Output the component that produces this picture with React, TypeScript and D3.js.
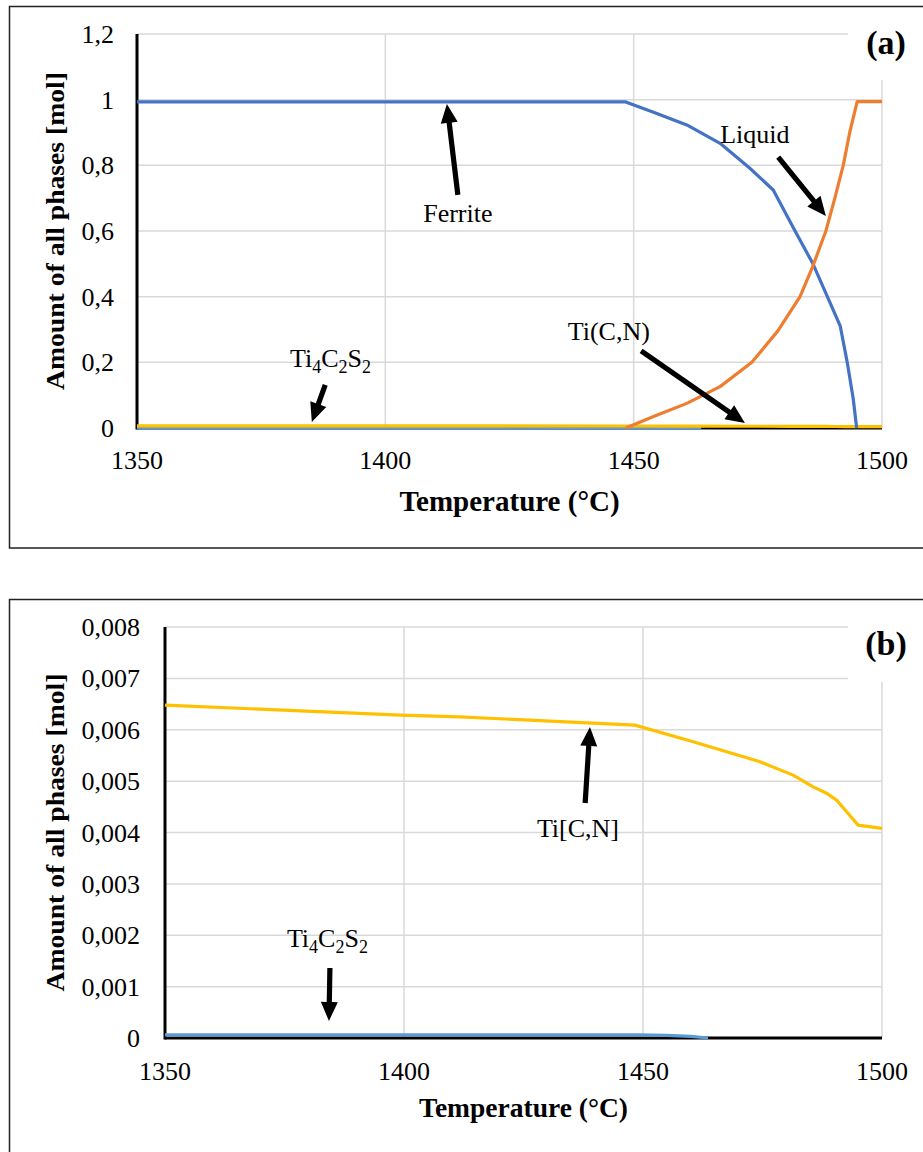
import React from "react";
import * as d3 from "d3";

// ---------- DATA ----------
const ferriteT = [1350, 1448.4, 1454, 1460.7, 1467.4, 1473.4, 1478.1, 1482.5, 1486.1, 1489, 1491.6, 1493, 1494.2, 1494.9];
const ferriteV = [0.993, 0.993, 0.962, 0.923, 0.867, 0.791, 0.725, 0.6, 0.5, 0.4, 0.31, 0.2, 0.09, 0.0];

const liquidT = [1448.4, 1454, 1460.7, 1467.4, 1473.8, 1479, 1483.5, 1486, 1488.7, 1490.5, 1492.2, 1493.5, 1495.0, 1500];
const liquidV = [0.0, 0.035, 0.075, 0.126, 0.2, 0.295, 0.4, 0.49, 0.6, 0.7, 0.8, 0.9, 0.994, 0.994];

const ticnT = [1350, 1399.2, 1411.7, 1448.3, 1460.5, 1474.5, 1481.4, 1485.6, 1488.3, 1490.5, 1492.6, 1495.0, 1500];
const ticnV = [0.00648, 0.006284, 0.00625, 0.00609, 0.005765, 0.005376, 0.005117, 0.004889, 0.00477, 0.00463, 0.004403, 0.004144, 0.00408];

const ti4T = [1350, 1449, 1455, 1460, 1463.6];
const ti4V = [0.00006, 0.00006, 0.00005, 0.00003, 0.0];

const xTicks = [1350, 1400, 1450, 1500];
const yTicksA = [0, 0.2, 0.4, 0.6, 0.8, 1, 1.2];
const yTicksB = [0, 0.001, 0.002, 0.003, 0.004, 0.005, 0.006, 0.007, 0.008];

const COLORS = { ferrite: "#4472C4", liquid: "#ED7D31", ticn: "#FFC000", ti4: "#5B9BD5" };

type Series = { t: number[]; v: number[]; color: string };
type Ann = { text: React.ReactNode; tx: number; ty: number; anchor: string; fromT: number; fromV: number; toT: number; toV: number };

const locale = d3.formatLocale({ decimal: ",", thousands: ".", grouping: [3], currency: ["", ""] });

const FONT = "'Liberation Serif', 'Times New Roman', serif";

function Ti4C2S2() {
  return (
    <>
      Ti<tspan dy={6} fontSize={18}>4</tspan>
      <tspan dy={-6}>C</tspan>
      <tspan dy={6} fontSize={18}>2</tspan>
      <tspan dy={-6}>S</tspan>
      <tspan dy={6} fontSize={18}>2</tspan>
    </>
  );
}

function arrowPath(x1: number, y1: number, x2: number, y2: number) {
  const dx = x2 - x1, dy = y2 - y1;
  const len = Math.hypot(dx, dy);
  const ux = dx / len, uy = dy / len;
  const px = -uy, py = ux;
  const L = Math.min(19, len * 0.5), hw = 8.5, sw = 2.6;
  const bx = x2 - ux * L, by = y2 - uy * L;
  const pts = [
    [x1 + px * sw, y1 + py * sw],
    [bx + px * sw, by + py * sw],
    [bx + px * hw, by + py * hw],
    [x2, y2],
    [bx - px * hw, by - py * hw],
    [bx - px * sw, by - py * sw],
    [x1 - px * sw, y1 - py * sw],
  ];
  return "M" + pts.map((p) => p[0].toFixed(2) + "," + p[1].toFixed(2)).join("L") + "Z";
}

type PanelProps = {
  frameY: number; frameH: number;
  left: number; right: number; top: number; bottom: number;
  yMax: number; yTicks: number[]; fmt: string;
  label: string; labelY: number; maskY0: number; maskY1: number;
  series: Series[]; anns: Ann[];
  xTitleY: number; xTitleSize: number; xTickY: number; yTickX: number;
};

function Panel(p: PanelProps) {
  const x = d3.scaleLinear().domain([1350, 1500]).range([p.left, p.right]);
  const y = d3.scaleLinear().domain([0, p.yMax]).range([p.bottom, p.top]);
  const f = locale.format(p.fmt);
  const line = d3.line<[number, number]>().x((d) => x(d[0])).y((d) => y(d[1])).curve(d3.curveLinear);
  const clipId = "clip" + p.label.replace(/\W/g, "");
  return (
    <g>
      <rect x={9.5} y={p.frameY} width={940} height={p.frameH} fill="#fff" stroke="#222" strokeWidth={1.5} />
      <defs>
        <clipPath id={clipId}>
          <rect x={p.left - 5} y={p.top - 5} width={p.right - p.left + 10} height={p.bottom - p.top + 10} />
        </clipPath>
      </defs>
      {p.yTicks.map((t) => (
        <line key={"gy" + t} x1={p.left} x2={p.right} y1={y(t)} y2={y(t)} stroke="#d9d9d9" strokeWidth={1.5} />
      ))}
      {xTicks.map((t) => (
        <line key={"gx" + t} x1={x(t)} x2={x(t)} y1={p.top} y2={p.bottom} stroke="#d9d9d9" strokeWidth={1.5} />
      ))}
      <rect x={848} y={p.maskY0} width={70} height={p.maskY1 - p.maskY0} fill="#fff" />
      <text x={886} y={p.labelY} textAnchor="middle" fontFamily={FONT} fontWeight="bold" fontSize={34}>{p.label}</text>
      <line x1={p.left} x2={p.right} y1={p.bottom} y2={p.bottom} stroke="#000" strokeWidth={3} />
      <line x1={p.left} x2={p.left} y1={p.top} y2={p.bottom + 1.5} stroke="#000" strokeWidth={3} />
      <g clipPath={`url(#${clipId})`}>
        {p.series.map((s, i) => (
          <path key={i} d={line(s.t.map((t, j) => [t, s.v[j]] as [number, number])) || ""} fill="none" stroke={s.color} strokeWidth={3.2} strokeLinejoin="round" />
        ))}
      </g>
      {xTicks.map((t) => (
        <text key={"tx" + t} x={x(t)} y={p.xTickY} textAnchor="middle" fontFamily={FONT} fontSize={26}>{t}</text>
      ))}
      {p.yTicks.map((t) => (
        <text key={"ty" + t} x={p.yTickX} y={y(t) + 9} textAnchor="end" fontFamily={FONT} fontSize={26}>{f(t)}</text>
      ))}
      <text x={(p.left + p.right) / 2} y={p.xTitleY} textAnchor="middle" fontFamily={FONT} fontWeight="bold" fontSize={p.xTitleSize}>Temperature (°C)</text>
      <text transform={`translate(64,${(p.top + p.bottom) / 2}) rotate(-90)`} textAnchor="middle" fontFamily={FONT} fontWeight="bold" fontSize={26} textLength={318} lengthAdjust="spacingAndGlyphs">Amount of all phases [mol]</text>
      {p.anns.map((a, i) => (
        <g key={"a" + i}>
          <text x={x(a.tx)} y={y(a.ty)} textAnchor={a.anchor} fontFamily={FONT} fontSize={26}>{a.text}</text>
          <path d={arrowPath(x(a.fromT), y(a.fromV), x(a.toT), y(a.toV))} fill="#000" />
        </g>
      ))}
    </g>
  );
}

export default function App() {
  const seriesA: Series[] = [
    { t: ti4T, v: ti4V, color: COLORS.ti4 },
    { t: ticnT, v: ticnV, color: COLORS.ticn },
    { t: ferriteT, v: ferriteV, color: COLORS.ferrite },
    { t: liquidT, v: liquidV, color: COLORS.liquid },
  ];
  const seriesB: Series[] = [
    { t: ticnT, v: ticnV, color: COLORS.ticn },
    { t: ti4T, v: ti4V, color: COLORS.ti4 },
  ];
  const annsA: Ann[] = [
    { text: "Ferrite", tx: 1414.6, ty: 0.628, anchor: "middle", fromT: 1414.6, fromV: 0.71, toT: 1412.4, toV: 0.987 },
    { text: "Liquid", tx: 1474.4, ty: 0.868, anchor: "middle", fromT: 1479.1, fromV: 0.825, toT: 1488.7, toV: 0.646 },
    { text: "Ti(C,N)", tx: 1445.0, ty: 0.268, anchor: "middle", fromT: 1451.5, fromV: 0.235, toT: 1472.4, toV: 0.015 },
    { text: <Ti4C2S2 />, tx: 1380.8, ty: 0.186, anchor: "start", fromT: 1387.9, fromV: 0.131, toT: 1385.2, toV: 0.018 },
  ];
  const annsB: Ann[] = [
    { text: "Ti[C,N]", tx: 1436.4, ty: 0.003913, anchor: "middle", fromT: 1437.9, fromV: 0.004574, toT: 1438.9, toV: 0.006054 },
    { text: <Ti4C2S2 />, tx: 1375.5, ty: 0.001771, anchor: "start", fromT: 1384.5, fromV: 0.001363, toT: 1384.3, toV: 0.000331 },
  ];
  return (
    <svg width={923} height={1152} style={{ position: "absolute", left: 0, top: 0, background: "#fff" }}>
      <rect x={0} y={0} width={923} height={1152} fill="#fff" />
      <Panel frameY={6.5} frameH={541.5} left={137} right={882} top={34} bottom={428}
        yMax={1.2} yTicks={yTicksA} fmt=".1~f" label="(a)" labelY={54} maskY0={20} maskY1={80}
        series={seriesA} anns={annsA} xTitleY={511} xTitleSize={29} xTickY={469} yTickX={114} />
      <Panel frameY={599.5} frameH={600} left={165} right={882} top={627} bottom={1038}
        yMax={0.008} yTicks={yTicksB} fmt=".3~f" label="(b)" labelY={655} maskY0={615} maskY1={682}
        series={seriesB} anns={annsB} xTitleY={1117} xTitleSize={27.5} xTickY={1080} yTickX={140} />
    </svg>
  );
}
